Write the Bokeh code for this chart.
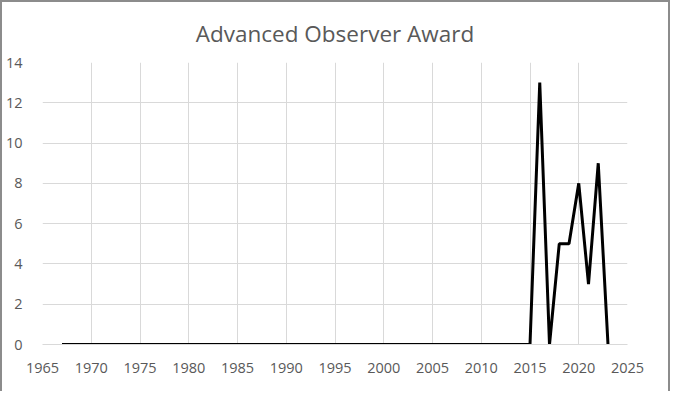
from bokeh.plotting import figure
from bokeh.models import Range1d, FixedTicker
from bokeh.embed import file_html
from bokeh.resources import INLINE

years = list(range(1967, 2024))
awards = [0, 0, 0, 0, 0, 0, 0, 0, 0, 0,
          0, 0, 0, 0, 0, 0, 0, 0, 0, 0,
          0, 0, 0, 0, 0, 0, 0, 0, 0, 0,
          0, 0, 0, 0, 0, 0, 0, 0, 0, 0,
          0, 0, 0, 0, 0, 0, 0, 0, 0,
          13, 0, 5, 5, 8, 3, 9, 0]
x_ticks = [1965, 1970, 1975, 1980, 1985, 1990, 1995, 2000, 2005, 2010, 2015, 2020, 2025]
y_ticks = [0, 2, 4, 6, 8, 10, 12, 14]
title_text = "Advanced Observer Award"

FONT = "Open Sans"
TXT = "#595959"
GRID = "#d9d9d9"

p = figure(width=670, height=391, output_backend="svg", toolbar_location=None,
           x_range=Range1d(1965, 2025), y_range=Range1d(0, 14),
           min_border_left=37, min_border_right=45, min_border_top=59, min_border_bottom=49)
p.styles = {"border-left": "2px solid #8c8c8c", "border-top": "2px solid #8c8c8c",
            "border-right": "2px solid #8c8c8c"}

p.line(years, awards, line_color="black", line_width=3)

p.xaxis.ticker = FixedTicker(ticks=x_ticks)
p.yaxis.ticker = FixedTicker(ticks=y_ticks)
p.xgrid.ticker = FixedTicker(ticks=x_ticks)
p.ygrid.ticker = FixedTicker(ticks=y_ticks)
for g in (p.xgrid, p.ygrid):
    g.grid_line_color = GRID
    g.grid_line_width = 1

for ax in (p.xaxis, p.yaxis):
    ax.major_tick_line_color = None
    ax.minor_tick_line_color = None
    ax.major_label_text_font = FONT
    ax.major_label_text_font_size = "14.5px"
    ax.major_label_text_color = TXT
p.xaxis.axis_line_color = GRID
p.yaxis.axis_line_color = None
p.xaxis.major_label_standoff = 12
p.yaxis.major_label_standoff = 14

p.title.text = title_text
p.title.align = "center"
p.title.text_font = FONT
p.title.text_font_size = "22.5px"
p.title.text_font_style = "normal"
p.title.text_color = TXT
p.title.offset = 0
p.title.standoff = 27

p.outline_line_color = None
p.background_fill_color = "white"
p.border_fill_color = "white"

open("out.html", "w").write(file_html(p, INLINE))
